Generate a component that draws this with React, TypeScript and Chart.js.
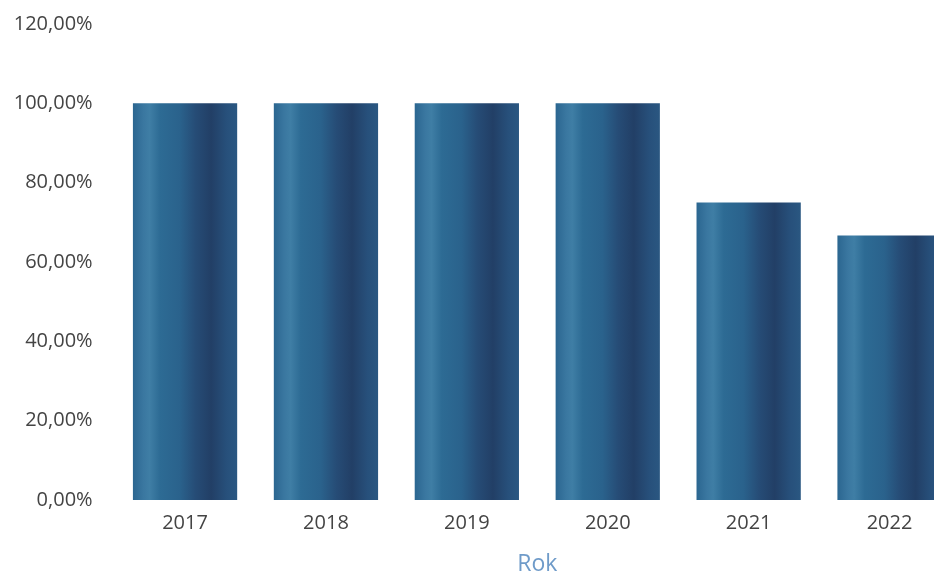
import React, { useEffect, useRef } from "react";
import { Chart, registerables } from "chart.js";

Chart.register(...registerables);

const years = ["2017", "2018", "2019", "2020", "2021", "2022"];
const shares = [100, 100, 100, 100, 75, 66.67];
const yTicksMax = 120;
const yTicksStep = 20;
const axisTitle = "Rok";

const BAR_PCT = 0.74;

function makeGradient(ctx: CanvasRenderingContext2D, left: number, right: number) {
  const g = ctx.createLinearGradient(left, 0, right, 0);
  g.addColorStop(0, "#2b6690");
  g.addColorStop(0.1, "#3a77a0");
  g.addColorStop(0.16, "#3f7ea5");
  g.addColorStop(0.26, "#2d6b94");
  g.addColorStop(0.45, "#2a628c");
  g.addColorStop(0.6, "#264c76");
  g.addColorStop(0.75, "#223f66");
  g.addColorStop(0.9, "#27507b");
  g.addColorStop(1, "#2a5781");
  return g;
}

export default function App() {
  const ref = useRef<HTMLCanvasElement | null>(null);

  useEffect(() => {
    document.body.style.margin = "0";
    document.body.style.overflow = "hidden";
    const canvas = ref.current;
    if (!canvas) return;
    const chart = new Chart(canvas, {
      type: "bar",
      data: {
        labels: years,
        datasets: [
          {
            data: shares,
            barPercentage: BAR_PCT,
            categoryPercentage: 1,
            borderWidth: 0,
            backgroundColor: (c: any) => {
              const ch = c.chart;
              const xs = ch.scales?.x;
              if (!ch.chartArea || !xs || c.dataIndex === undefined) return "#285e88";
              const center = xs.getPixelForValue(c.dataIndex);
              const half = ((xs.width / years.length) * BAR_PCT) / 2;
              return makeGradient(ch.ctx, center - half, center + half);
            },
          },
        ],
      },
      options: {
        animation: false,
        responsive: false,
        maintainAspectRatio: false,
        layout: { padding: { top: 24, right: 0, left: 0, bottom: 0 } },
        plugins: { legend: { display: false }, tooltip: { enabled: false } },
        scales: {
          x: {
            grid: { display: false },
            border: { display: false },
            ticks: {
              color: "#444444",
              font: { family: "Open Sans", size: 20 },
              padding: 3,
            },
            title: {
              display: true,
              text: axisTitle,
              color: "#6f9bc9",
              font: { family: "Open Sans", size: 23 },
              padding: { top: 6, bottom: -3 },
            },
            afterFit: (s: any) => {
              s.height = 75;
              s.paddingLeft = 0;
              s.paddingRight = 0;
            },
          },
          y: {
            min: 0,
            max: yTicksMax,
            grid: { display: false },
            border: { display: false },
            ticks: {
              stepSize: yTicksStep,
              color: "#444444",
              font: { family: "Open Sans", size: 20 },
              padding: 14,
              callback: (v: any) => Number(v).toFixed(2).replace(".", ",") + "%",
            },
            afterFit: (s: any) => {
              s.width = 114.6;
              s.paddingTop = 0;
              s.paddingBottom = 0;
            },
          },
        },
      },
    });
    return () => chart.destroy();
  }, []);

  return (
    <div style={{ position: "fixed", left: 0, top: 0, width: 960, height: 575 }}>
      <canvas ref={ref} width={960} height={575} style={{ width: 960, height: 575 }} />
    </div>
  );
}
